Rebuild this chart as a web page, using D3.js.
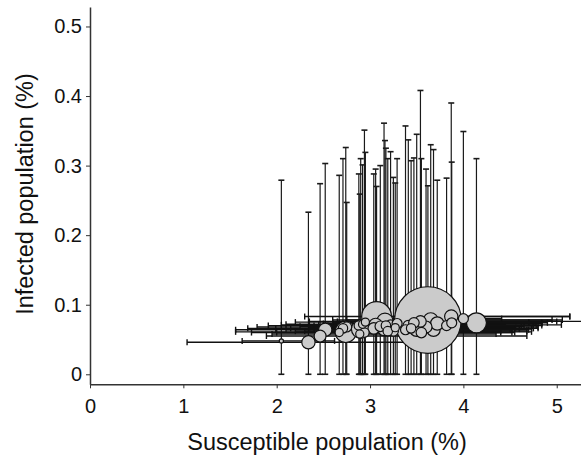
<!DOCTYPE html>
<html>
<head>
<meta charset="utf-8">
<script src="https://cdn.jsdelivr.net/npm/d3@7"></script>
<style>
  body { margin: 0; background: #fff; }
  svg { display: block; font-family: "Liberation Sans", Arial, Helvetica, sans-serif; }
  .axis path, .axis line { stroke: #333; }
  .axis text { fill: #111; font-size: 20px; }
</style>
</head>
<body>
<div id="root"></div>
<script>
// Data: one entry per area.
const susceptible = [2.05, 2.34, 2.465, 2.52, 2.67, 2.71, 2.74, 2.75, 2.88, 2.90, 2.92, 2.94, 2.95, 2.89, 3.04, 3.06, 3.07, 3.11, 3.15, 3.16, 3.17, 3.19, 3.22, 3.25, 3.29, 3.27, 3.38, 3.41, 3.44, 3.47, 3.50, 3.54, 3.55, 3.60, 3.62, 3.65, 3.68, 3.72, 3.82, 3.87, 3.875, 4.00, 4.14];
const infected = [0.048, 0.046, 0.055, 0.064, 0.060, 0.066, 0.061, 0.068, 0.070, 0.065, 0.072, 0.060, 0.075, 0.058, 0.066, 0.071, 0.083, 0.069, 0.064, 0.076, 0.070, 0.062, 0.071, 0.062, 0.073, 0.067, 0.064, 0.070, 0.066, 0.074, 0.065, 0.076, 0.060, 0.068, 0.078, 0.078, 0.064, 0.073, 0.070, 0.083, 0.074, 0.080, 0.074];
const population = [0.4, 4, 3.2, 4, 1.5, 2, 10.3, 2.25, 2, 7.8, 1.5, 2, 1.5, 1.5, 3, 4, 20, 2.5, 3.2, 6.2, 2, 2, 2.25, 2.25, 2.25, 1.5, 2.25, 2.5, 2, 2.5, 4.8, 3, 2.5, 3.2, 100, 4.8, 4, 4, 2.25, 4, 2.25, 2.25, 9];
const infectedHigh = [0.279, 0.233, 0.274, 0.303, 0.286, 0.310, 0.326, 0.247, 0.288, 0.310, 0.301, 0.351, 0.319, 0.259, 0.288, 0.295, 0.270, 0.300, 0.361, 0.336, 0.325, 0.310, 0.320, 0.283, 0.310, 0.275, 0.357, 0.337, 0.307, 0.311, 0.345, 0.408, 0.310, 0.295, 0.271, 0.330, 0.323, 0.279, 0.282, 0.390, 0.305, 0.349, 0.310];
const susceptibleLow = [1.63, 1.04, 1.89, 1.56, 1.73, 1.69, 1.56, 1.79, 1.91, 1.99, 2.10, 2.00, 2.20, 1.95, 2.15, 2.05, 2.30, 2.25, 2.10, 2.35, 2.40, 2.20, 2.45, 2.30, 2.50, 2.35, 2.40, 2.55, 2.45, 2.60, 2.50, 2.65, 2.55, 2.70, 2.60, 2.75, 2.80, 2.85, 2.90, 2.95, 3.00, 3.10, 3.20];
const susceptibleHigh = [2.62, 3.55, 4.68, 4.52, 4.40, 4.75, 4.73, 4.30, 4.84, 4.60, 4.45, 4.55, 4.70, 4.35, 4.80, 5.05, 5.14, 4.65, 4.50, 5.30, 4.62, 4.40, 4.78, 4.68, 4.84, 4.56, 4.70, 4.75, 4.60, 4.90, 4.73, 5.00, 4.52, 4.80, 4.95, 5.06, 4.68, 4.84, 4.75, 5.14, 4.70, 4.41, 4.84];

const xTicks = [0, 1, 2, 3, 4, 5];
const yTicks = [0, 0.1, 0.2, 0.3, 0.4, 0.5];

const data = susceptible.map((s, i) => ({
  s: s,
  inf: infected[i],
  pop: population[i],
  infHi: infectedHigh[i],
  sLo: susceptibleLow[i],
  sHi: susceptibleHigh[i]
}));

const W = 581, H = 457;
const svg = d3.select('#root').append('svg')
  .attr('width', W)
  .attr('height', H);

const x = d3.scaleLinear().domain([0, 5.26]).range([90, 581]);
const y = d3.scaleLinear().domain([-0.0144, 0.528]).range([384.3, 7]);
const r = d3.scaleSqrt().domain([0, 100]).range([0, 33.3]);

const cap = 3; // half width of error bar caps

// Vertical error bars.
const vbar = svg.append('g').attr('class', 'vbars');
data.forEach(d => {
  const g = vbar.append('g').attr('stroke', '#1a1a1a').attr('stroke-width', 1.2);
  g.append('line').attr('x1', x(d.s)).attr('x2', x(d.s)).attr('y1', y(0)).attr('y2', y(d.infHi));
  g.append('line').attr('x1', x(d.s) - cap).attr('x2', x(d.s) + cap).attr('y1', y(d.infHi)).attr('y2', y(d.infHi)).attr('stroke-width', 1.6);
  g.append('line').attr('x1', x(d.s) - cap).attr('x2', x(d.s) + cap).attr('y1', y(0)).attr('y2', y(0)).attr('stroke-width', 1.6);
});

// Horizontal error bars.
const hbar = svg.append('g').attr('class', 'hbars');
data.forEach(d => {
  const g = hbar.append('g').attr('stroke', '#111').attr('stroke-width', 1.4);
  g.append('line').attr('x1', x(d.sLo)).attr('x2', x(d.sHi)).attr('y1', y(d.inf)).attr('y2', y(d.inf));
  g.append('line').attr('x1', x(d.sLo)).attr('x2', x(d.sLo)).attr('y1', y(d.inf) - cap).attr('y2', y(d.inf) + cap);
  g.append('line').attr('x1', x(d.sHi)).attr('x2', x(d.sHi)).attr('y1', y(d.inf) - cap).attr('y2', y(d.inf) + cap);
});

// Bubbles, largest first so small ones stay visible.
svg.append('g').attr('class', 'bubbles')
  .selectAll('circle')
  .data(data.slice().sort((a, b) => b.pop - a.pop))
  .enter()
  .append('circle')
  .attr('cx', d => x(d.s))
  .attr('cy', d => y(d.inf))
  .attr('r', d => r(d.pop))
  .attr('fill', '#cbcbcb')
  .attr('stroke', '#111')
  .attr('stroke-width', 1.2);

// Axes.
const xAxis = d3.axisBottom(x).tickValues(xTicks).tickFormat(d3.format('d')).tickSizeInner(4).tickSizeOuter(0).tickPadding(11);
const yAxis = d3.axisLeft(y).tickValues(yTicks).tickFormat(d => d === 0 ? '0' : d3.format('.1f')(d)).tickSizeInner(4).tickSizeOuter(0).tickPadding(4);

svg.append('g')
  .attr('class', 'axis x-axis')
  .attr('transform', 'translate(0,' + y(-0.0144) + ')')
  .call(xAxis)
  .call(g => g.select('.domain').attr('stroke-width', 1.5));

svg.append('g')
  .attr('class', 'axis y-axis')
  .attr('transform', 'translate(' + x(0) + ',0)')
  .call(yAxis)
  .call(g => g.select('.domain').attr('stroke-width', 1.5));

// Axis titles.
svg.append('text')
  .attr('x', 327)
  .attr('y', 450)
  .attr('text-anchor', 'middle')
  .style('font-size', '23.5px')
  .attr('fill', '#111')
  .text('Susceptible population (%)');

svg.append('text')
  .attr('transform', 'translate(33,194) rotate(-90)')
  .attr('text-anchor', 'middle')
  .style('font-size', '23.5px')
  .attr('fill', '#111')
  .text('Infected population (%)');
</script>
</body>
</html>
